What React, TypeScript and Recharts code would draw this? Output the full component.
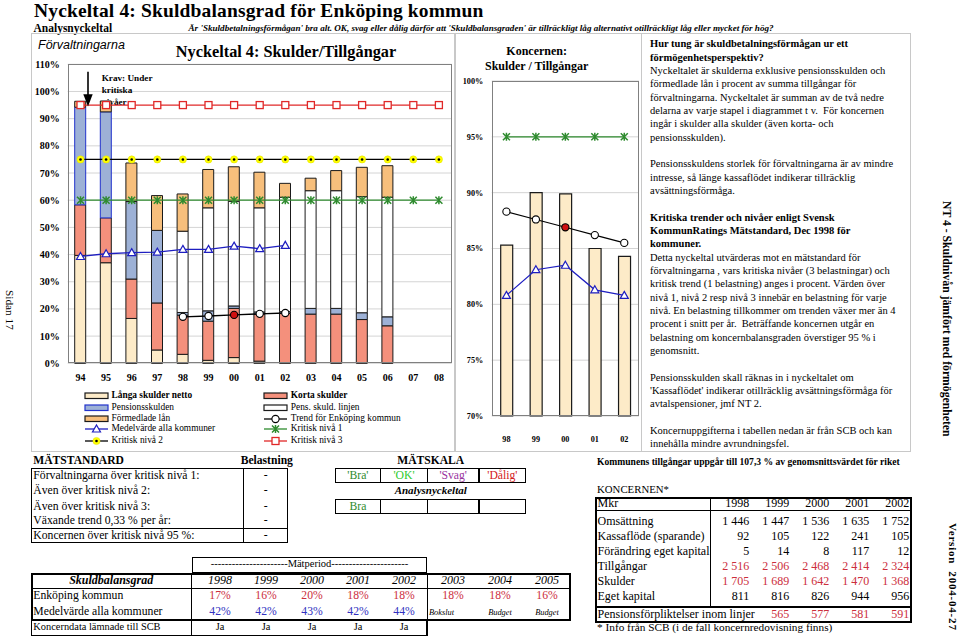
import React from 'react';
import { ComposedChart, Bar, Line, XAxis, YAxis, CartesianGrid, Cell } from 'recharts';

// ---------- DATA ----------
const years = ['94', '95', '96', '97', '98', '99', '00', '01', '02', '03', '04', '05', '06', '07', '08'];
const langaSkulder = [39.7, 37.0, 16.5, 4.9, 3.3, 1.1, 2.1, 0.8, 0, 0, 0, 0, 0, null, null];
const kortaSkulder = [18.6, 16.5, 14.5, 17.3, 14.4, 14.4, 18.1, 17.3, 18.3, 18.1, 18.1, 16.1, 13.8, null, null];
const pensionsskulden = [35.9, 39.0, 28.5, 26.7, 1.0, 3.8, 0.9, 0.8, 0.7, 2.1, 2.1, 2.5, 3.3, null, null];
const pensSkuldLinjen = [0, 0, 0, 0, 29.9, 37.9, 38.5, 38.3, 42.1, 43.3, 43.3, 42.7, 44.0, null, null];
const formedladeLan = [2.2, 4.0, 14.2, 12.8, 13.7, 14.1, 12.7, 13.1, 5.1, 4.6, 7.4, 10.8, 11.6, null, null];
const medelvardeAlla = [39.3, 40.3, 40.7, 40.9, 41.9, 41.9, 43.1, 42.2, 43.4, null, null, null, null, null, null];
const trendEnkoping = [null, null, null, null, 17.1, 17.4, 17.8, 18.2, 18.5, null, null, null, null, null, null];
const kritiskNiva1 = [60, 60, 60, 60, 60, 60, 60, 60, 60, 60, 60, 60, 60, 60, 60];
const kritiskNiva2 = [75, 75, 75, 75, 75, 75, 75, 75, 75, 75, 75, 75, 75, 75, 75];
const kritiskNiva3 = [95, 95, 95, 95, 95, 95, 95, 95, 95, 95, 95, 95, 95, 95, 95];
const leftTicks = [0, 10, 20, 30, 40, 50, 60, 70, 80, 90, 100, 110];

const konYears = ['98', '99', '00', '01', '02'];
const konSkulder = [85.3, 90.0, 89.9, 85.0, 84.3];
const konTrend = [88.3, 87.6, 86.9, 86.2, 85.5];
const konMedel = [80.8, 83.1, 83.5, 81.3, 80.8];
const konKritisk = [95, 95, 95, 95, 95];
const konTicks = [70, 75, 80, 85, 90, 95, 100];
const highlightYear = '00';

const matRows = [
  'Förvaltningarna över kritisk nivå 1:',
  'Även över kritisk nivå 2:',
  'Även över kritisk nivå 3:',
  'Växande trend 0,33 % per år:',
  'Koncernen över kritisk nivå 95 %:',
];
const matBelastning = ['-', '-', '-', '-', '-'];
const skalaLabels = ["'Bra'", "'OK'", "'Svag'", "'Dålig'"];
const skalaResult = ['Bra', '', '', ''];

const periodYears = ['1998', '1999', '2000', '2001', '2002'];
const futureYears = ['2003', '2004', '2005'];
const enkopingPct = ['17%', '16%', '20%', '18%', '18%'];
const enkopingFuture = ['18%', '18%', '16%'];
const medelPct = ['42%', '42%', '43%', '42%', '44%'];
const futureNotes = ['Bokslut', 'Budget', 'Budget'];
const koncernData = ['Ja', 'Ja', 'Ja', 'Ja', 'Ja'];

const konTableYears = ['1998', '1999', '2000', '2001', '2002'];
const konTableRows: { label: string; values: string[]; red: boolean }[] = [
  { label: 'Omsättning', values: ['1 446', '1 447', '1 536', '1 635', '1 752'], red: false },
  { label: 'Kassaflöde (sparande)', values: ['92', '105', '122', '241', '105'], red: false },
  { label: 'Förändring eget kapital', values: ['5', '14', '8', '117', '12'], red: false },
  { label: 'Tillgångar', values: ['2 516', '2 506', '2 468', '2 414', '2 324'], red: true },
  { label: 'Skulder', values: ['1 705', '1 689', '1 642', '1 470', '1 368'], red: true },
  { label: 'Eget kapital', values: ['811', '816', '826', '944', '956'], red: false },
];
const pensionRow = ['', '565', '577', '581', '591'];

const headerQuestion =
  "Är 'Skuldbetalningsförmågan' bra alt. OK, svag eller dålig därför att 'Skuldbalansgraden' är tillräckligt låg alternativt otillräckligt låg eller mycket för hög?";

const textLines: { t: string; b?: boolean }[] = [
  { t: 'Hur tung är skuldbetalningsförmågan ur ett', b: true },
  { t: 'förmögenhetsperspektiv?', b: true },
  { t: 'Nyckeltalet är skulderna exklusive pensionsskulden och' },
  { t: 'förmedlade lån i procent av summa tillgångar för' },
  { t: 'förvaltningarna. Nyckeltalet är summan av de två nedre' },
  { t: 'delarna av varje stapel i diagrammet t v.  För koncernen' },
  { t: 'ingår i skulder alla skulder (även korta- och' },
  { t: 'pensionsskulden).' },
  { t: '' },
  { t: 'Pensionsskuldens storlek för förvaltningarna är av mindre' },
  { t: 'intresse, så länge kassaflödet indikerar tillräcklig' },
  { t: 'avsättningsförmåga.' },
  { t: '' },
  { t: 'Kritiska trender och nivåer enligt Svensk', b: true },
  { t: 'KommunRatings Mätstandard, Dec 1998 för', b: true },
  { t: 'kommuner.', b: true },
  { t: 'Detta nyckeltal utvärderas mot en mätstandard för' },
  { t: 'förvaltningarna , vars kritiska nivåer (3 belastningar) och' },
  { t: 'kritisk trend (1 belastning) anges i procent. Värden över' },
  { t: 'nivå 1, nivå 2 resp nivå 3 innebär en belastning för varje' },
  { t: 'nivå. En belastning tillkommer om trenden växer mer än 4' },
  { t: 'procent i snitt per år.  Beträffande koncernen utgår en' },
  { t: 'belastning om koncernbalansgraden överstiger 95 % i' },
  { t: 'genomsnitt.' },
  { t: '' },
  { t: 'Pensionsskulden skall räknas in i nyckeltalet om' },
  { t: "'Kassaflödet' indikerar otillräcklig avsättningsförmåga för" },
  { t: 'avtalspensioner, jmf NT 2.' },
  { t: '' },
  { t: 'Koncernuppgifterna i tabellen nedan är från SCB och kan' },
  { t: 'innehålla mindre avrundningsfel.' },
];

// ---------- STYLE ----------
const SERIF = '"Liberation Serif", "Times New Roman", serif';
const SANS = '"Liberation Sans", Arial, sans-serif';
const C = {
  langa: '#FDEBC8',
  korta: '#F4907C',
  pension: '#9DB1D6',
  linjen: '#FFFFFF',
  formedlade: '#F7BF7C',
  green: '#2E8B2E',
  red: '#E02828',
  blue: '#1E1EC0',
  yellow: '#FFFF00',
  border: '#1a1a1a',
};

const leftData = years.map((y, i) => ({
  year: y,
  langa: langaSkulder[i],
  korta: kortaSkulder[i],
  pension: pensionsskulden[i],
  linjen: pensSkuldLinjen[i],
  formedlade: formedladeLan[i],
  medel: medelvardeAlla[i],
  trend: trendEnkoping[i],
  k1: kritiskNiva1[i],
  k2: kritiskNiva2[i],
  k3: kritiskNiva3[i],
}));

const konData = konYears.map((y, i) => ({
  year: y,
  skulder: konSkulder[i],
  trend: konTrend[i],
  medel: konMedel[i],
  krit: konKritisk[i],
}));

function marker(kind: string, cx: number, cy: number, key: string, hi = false) {
  switch (kind) {
    case 'star':
      return (
        <g key={key}>
          <path
            d={`M${cx - 3.5},${cy - 3.5}L${cx + 3.5},${cy + 3.5}M${cx - 3.5},${cy + 3.5}L${cx + 3.5},${cy - 3.5}M${cx},${cy - 4}L${cx},${cy + 4}`}
            stroke={C.green}
            strokeWidth={1.5}
          />
        </g>
      );
    case 'yellow':
      return (
        <g key={key}>
          <circle cx={cx} cy={cy} r={3.6} fill={C.yellow} stroke="#e0e000" strokeWidth={0.5} />
          <circle cx={cx} cy={cy} r={1.3} fill="#000" />
        </g>
      );
    case 'square':
      return <rect key={key} x={cx - 3.5} y={cy - 3.5} width={7} height={7} fill="#fff" stroke={C.red} strokeWidth={1.3} />;
    case 'triangle':
      return (
        <path key={key} d={`M${cx},${cy - 4}L${cx + 4},${cy + 3}L${cx - 4},${cy + 3}Z`} fill="#fff" stroke={C.blue} strokeWidth={1.2} />
      );
    case 'circle':
      return <circle key={key} cx={cx} cy={cy} r={3.6} fill={hi ? '#D01010' : '#fff'} stroke="#000" strokeWidth={1.1} />;
    default:
      return <g key={key} />;
  }
}

const dotFn = (kind: string) => (props: any) => {
  const { cx, cy, index, payload, value } = props;
  const key = `${kind}-${index}`;
  if (cx == null || cy == null || value == null || Number.isNaN(cy)) return <g key={key} />;
  return marker(kind, cx, cy, key, payload && payload.year === highlightYear);
};

const Txt = ({ x, y, size, children, bold, italic, color, anchor = 'start', family = SERIF, spacing, lh = 1.2 }: any) => {
  let transform = undefined as string | undefined;
  if (anchor === 'middle') transform = 'translateX(-50%)';
  if (anchor === 'end') transform = 'translateX(-100%)';
  const top = y - size * 0.64 + ((1.2 - lh) / 2) * size;
  return (
    <div
      style={{
        position: 'absolute',
        left: x,
        top,
        fontSize: size,
        lineHeight: `${size * lh}px`,
        whiteSpace: 'pre',
        fontWeight: bold ? 'bold' : 'normal',
        fontStyle: italic ? 'italic' : 'normal',
        color: color || '#000',
        fontFamily: family,
        transform,
        letterSpacing: spacing,
      }}
    >
      {children}
    </div>
  );
};

const Box = ({ x1, y1, x2, y2, w = 1, color = '#000', sides }: any) => (
  <div
    style={{
      position: 'absolute',
      left: x1,
      top: y1,
      width: x2 - x1,
      height: y2 - y1,
      boxSizing: 'border-box',
      borderStyle: 'solid',
      borderColor: color,
      borderWidth: sides || w,
    }}
  />
);
const VLine = ({ x, y1, y2, w = 1, color = '#000' }: any) => (
  <div style={{ position: 'absolute', left: x - w / 2, top: y1, width: w, height: y2 - y1, background: color }} />
);
const HLine = ({ y, x1, x2, w = 1, color = '#000' }: any) => (
  <div style={{ position: 'absolute', left: x1, top: y - w / 2, width: x2 - x1, height: w, background: color }} />
);

// x = left edge of the rotated text's box
const Rotated = ({ x, y, size, children, bold, spacing }: any) => (
  <div
    style={{
      position: 'absolute',
      left: x + size * 1.2,
      top: y,
      fontSize: size,
      lineHeight: `${size * 1.2}px`,
      whiteSpace: 'pre',
      fontWeight: bold ? 'bold' : 'normal',
      fontFamily: SERIF,
      transform: 'rotate(90deg)',
      transformOrigin: 'left top',
      letterSpacing: spacing,
    }}
  >
    {children}
  </div>
);

const legendItems = [
  { label: 'Långa skulder netto', type: 'rect', fill: C.langa, stroke: C.border, bold: true, col: 0, row: 0 },
  { label: 'Pensionsskulden', type: 'rect', fill: C.pension, stroke: '#2233CC', col: 0, row: 1 },
  { label: 'Förmedlade lån', type: 'rect', fill: C.formedlade, stroke: C.border, col: 0, row: 2 },
  { label: 'Medelvärde alla kommuner', type: 'line', stroke: C.blue, mk: 'triangle', col: 0, row: 3 },
  { label: 'Kritisk nivå 2', type: 'line', stroke: '#000', mk: 'yellow', col: 0, row: 4 },
  { label: 'Korta skulder', type: 'rect', fill: C.korta, stroke: C.border, bold: true, col: 1, row: 0 },
  { label: 'Pens. skuld. linjen', type: 'rect', fill: C.linjen, stroke: C.border, col: 1, row: 1 },
  { label: 'Trend för Enköping kommun', type: 'line', stroke: '#000', mk: 'circle', col: 1, row: 2 },
  { label: 'Kritisk nivå 1', type: 'line', stroke: C.green, mk: 'star', col: 1, row: 3 },
  { label: 'Kritisk nivå 3', type: 'line', stroke: C.red, mk: 'square', col: 1, row: 4 },
];
const legendRowY = [396, 407.7, 418.7, 429.3, 440.7];
const legendColX = [85, 264.3];

export default function App() {
  const tickStyle = { fontSize: 10, fontWeight: 'bold', fill: '#000', fontFamily: SERIF };
  const konTick = { fontSize: 8.2, fontWeight: 'bold', fill: '#000', fontFamily: SERIF };
  return (
    <div style={{ position: 'absolute', left: 0, top: 0, width: 960, height: 637, background: '#fff', fontFamily: SERIF, overflow: 'hidden' }}>
      {/* Header */}
      <Txt x={34} y={11.7} size={19.5} bold lh={0.9} spacing={0.15}>Nyckeltal 4: Skuldbalansgrad för Enköping kommun</Txt>
      <Txt x={33.5} y={28.6} size={11.5} bold lh={0.9}>Analysnyckeltal</Txt>
      <Txt x={188.5} y={28.4} size={9.1} bold italic lh={0.9}>{headerQuestion}</Txt>

      {/* Panel frame */}
      <Box x1={31} y1={33} x2={911} y2={452} w={1.5} color="#C8C8C8" />
      <VLine x={455} y1={33} y2={452} w={1.5} color="#C8C8C8" />
      <VLine x={641.5} y1={33} y2={452} w={1.5} color="#C8C8C8" />

      <Txt x={38} y={46} size={12.5} italic family={SANS}>Förvaltningarna</Txt>
      <Txt x={286} y={52.5} size={16.3} bold anchor="middle">Nyckeltal 4: Skulder/Tillgångar</Txt>

      {/* Annotation text partly hidden by the critical-level line */}
      <Txt x={101.7} y={102.5} size={9.2} bold>nivåer</Txt>

      {/* Left chart */}
      <div style={{ position: 'absolute', left: 0, top: 0 }}>
        <ComposedChart width={455} height={395} data={leftData} margin={{ top: 64.3, right: 3.3, left: 0, bottom: 0 }} barSize={11}>
          <CartesianGrid vertical={false} stroke="#D4D4D4" />
          <XAxis dataKey="year" interval={0} tick={tickStyle} tickLine={false} axisLine={false} height={31.7} tickMargin={5} />
          <YAxis domain={[0, 110]} ticks={leftTicks} interval={0} tickFormatter={(v: number) => `${v}%`} tick={tickStyle} tickLine={false} axisLine={false} width={67.7} tickSize={6} tickMargin={2} />
          <Bar dataKey="langa" stackId="a" fill={C.langa} stroke={C.border} strokeWidth={1} isAnimationActive={false} />
          <Bar dataKey="korta" stackId="a" fill={C.korta} stroke={C.border} strokeWidth={1} isAnimationActive={false} />
          <Bar dataKey="pension" stackId="a" fill={C.pension} stroke={C.border} strokeWidth={1} isAnimationActive={false}>
            {leftData.map((d, i) => (
              <Cell key={i} stroke={i < 2 ? '#2233CC' : C.border} />
            ))}
          </Bar>
          <Bar dataKey="linjen" stackId="a" fill={C.linjen} stroke={C.border} strokeWidth={1} isAnimationActive={false} />
          <Bar dataKey="formedlade" stackId="a" fill={C.formedlade} stroke={C.border} strokeWidth={1} isAnimationActive={false} />
          <Line dataKey="k2" stroke="#000" strokeWidth={1.3} dot={dotFn('yellow')} activeDot={false} isAnimationActive={false} />
          <Line dataKey="k1" stroke={C.green} strokeWidth={1.3} dot={dotFn('star')} activeDot={false} isAnimationActive={false} />
          <Line dataKey="k3" stroke={C.red} strokeWidth={1.3} dot={dotFn('square')} activeDot={false} isAnimationActive={false} />
          <Line dataKey="medel" stroke={C.blue} strokeWidth={1.3} dot={dotFn('triangle')} activeDot={false} isAnimationActive={false} />
          <Line dataKey="trend" stroke="#000" strokeWidth={1.3} dot={dotFn('circle')} activeDot={false} isAnimationActive={false} />
        </ComposedChart>
      </div>
      <Box x1={67.7} y1={64.3} x2={451.7} y2={363.3} w={1} color="#808080" />
      <Txt x={101.7} y={78.5} size={9.2} bold>Krav: Under</Txt>
      <Txt x={101.7} y={90.5} size={9.2} bold>kritiska</Txt>

      {/* Arrow */}
      <svg style={{ position: 'absolute', left: 0, top: 0 }} width={200} height={120}>
        <line x1={88} y1={71.7} x2={88} y2={96} stroke="#000" strokeWidth={1.6} />
        <path d="M83.3,94.3L92.7,94.3L88,106.5Z" fill="#000" />
      </svg>

      {/* Legend */}
      {legendItems.map((it, i) => {
        const x = legendColX[it.col];
        const y = legendRowY[it.row];
        return (
          <React.Fragment key={i}>
            <svg style={{ position: 'absolute', left: x - 2, top: y - 6 }} width={28} height={12}>
              {it.type === 'rect' ? (
                <rect x={2} y={3} width={23} height={5.5} fill={it.fill} stroke={it.stroke} strokeWidth={1.2} />
              ) : (
                <>
                  <line x1={2} y1={6} x2={25} y2={6} stroke={it.stroke} strokeWidth={1.3} />
                  {marker(it.mk as string, 13.5, 6, 'm')}
                </>
              )}
            </svg>
            <Txt x={x + 26.5} y={y} size={9.4} bold={it.bold}>{it.label}</Txt>
          </React.Fragment>
        );
      })}

      {/* Koncernen chart */}
      <Txt x={536.7} y={52} size={12} bold anchor="middle">Koncernen:</Txt>
      <Txt x={536.7} y={67} size={12} bold anchor="middle">Skulder / Tillgångar</Txt>
      <div style={{ position: 'absolute', left: 440, top: 0 }}>
        <ComposedChart width={205} height={450} data={konData} margin={{ top: 81, right: 6, left: 0, bottom: 0 }} barSize={12}>
          <CartesianGrid vertical={false} stroke="#D4D4D4" />
          <XAxis dataKey="year" interval={0} tick={konTick} tickLine={false} axisLine={false} height={34} tickMargin={14} />
          <YAxis domain={[70, 100]} ticks={konTicks} interval={0} tickFormatter={(v: number) => `${v}%`} tick={konTick} tickLine={false} axisLine={false} width={51.7} tickSize={5} tickMargin={3.5} />
          <Bar dataKey="skulder" fill={C.langa} stroke={C.border} strokeWidth={1.2} isAnimationActive={false} />
          <Line dataKey="krit" stroke={C.green} strokeWidth={1.3} dot={dotFn('star')} activeDot={false} isAnimationActive={false} />
          <Line dataKey="trend" stroke="#000" strokeWidth={1.2} dot={dotFn('circle')} activeDot={false} isAnimationActive={false} />
          <Line dataKey="medel" stroke={C.blue} strokeWidth={1.2} dot={dotFn('triangle')} activeDot={false} isAnimationActive={false} />
        </ComposedChart>
      </div>
      <Box x1={491.7} y1={81} x2={639} y2={416} w={1} color="#808080" />

      {/* Right text */}
      {textLines.map((l, i) => (
        <Txt key={i} x={650} y={45 + i * 13.33} size={10.5} bold={l.b}>{l.t}</Txt>
      ))}

      {/* Rotated side texts */}
      <Rotated x={2} y={290} size={11.3}>Sidan 17</Rotated>
      <Rotated x={938.5} y={201} size={11.7} bold>NT 4 - Skuldnivån jämfört med förmögenheten</Rotated>
      <Rotated x={945.5} y={523} size={11} bold spacing={0.8}>Version  2004-04-27</Rotated>

      {/* MÄTSTANDARD table */}
      <Txt x={33.3} y={461} size={11.6} bold>MÄTSTANDARD</Txt>
      <Txt x={240.7} y={461} size={11.6} bold>Belastning</Txt>
      <Box x1={30.7} y1={468.3} x2={288.3} y2={543.3} w={1.5} />
      <VLine x={243.3} y1={468.3} y2={543.3} w={1.5} />
      <HLine y={528.3} x1={30.7} x2={288.3} w={1.5} />
      {matRows.map((r, i) => {
        const yc = [476, 491.7, 507.3, 521.7, 536][i];
        return (
          <React.Fragment key={i}>
            <Txt x={33.3} y={yc} size={11.7}>{r}</Txt>
            <Txt x={265.8} y={yc} size={11.7} anchor="middle">{matBelastning[i]}</Txt>
          </React.Fragment>
        );
      })}

      {/* MÄTSKALA */}
      <Txt x={430.7} y={461} size={11.6} bold anchor="middle">MÄTSKALA</Txt>
      <Box x1={335} y1={468.3} x2={525.7} y2={483.3} w={1.5} />
      <Box x1={335} y1={499.3} x2={525.7} y2={514.3} w={1.5} />
      {[380.7, 427.3, 479].map((x, i) => (
        <React.Fragment key={i}>
          <VLine x={x} y1={468.3} y2={483.3} w={1.5} />
          <VLine x={x} y1={499.3} y2={514.3} w={1.5} />
        </React.Fragment>
      ))}
      {skalaLabels.map((s, i) => {
        const centers = [357.9, 404, 453.2, 502.4];
        const colors = ['#2E8B2E', '#2ECC2E', '#9933A0', '#D42020'];
        return (
          <React.Fragment key={i}>
            <Txt x={centers[i]} y={476} size={11.7} anchor="middle" color={colors[i]}>{s}</Txt>
            <Txt x={centers[i]} y={507} size={11.7} anchor="middle" color={colors[i]}>{skalaResult[i]}</Txt>
          </React.Fragment>
        );
      })}
      <Txt x={430.7} y={491} size={11} bold italic anchor="middle">Analysnyckeltal</Txt>

      {/* Skuldbalansgrad table */}
      <Box x1={191.7} y1={557.3} x2={427.3} y2={573} w={1.5} />
      <Txt x={309.5} y={565} size={10.5} anchor="middle">----------------------Mätperiod----------------------</Txt>
      <Box x1={30.7} y1={572.7} x2={571} y2={620.7} w={2} />
      <HLine y={588.3} x1={30.7} x2={571} w={1.5} />
      <VLine x={191.7} y1={572.7} y2={635.7} w={1.5} />
      <VLine x={427.3} y1={572.7} y2={635.7} w={1.5} />
      <Box x1={30.7} y1={620} x2={427.3} y2={636} sides="0 1.5px 1.5px 1.5px" />
      <Txt x={111.2} y={580.5} size={12} bold italic anchor="middle">Skuldbalansgrad</Txt>
      <Txt x={33.3} y={596} size={11.7}>Enköping kommun</Txt>
      <Txt x={33.3} y={612.3} size={11.7}>Medelvärde alla kommuner</Txt>
      <Txt x={33.3} y={628} size={10.4}>Koncerndata lämnade till SCB</Txt>
      {periodYears.map((yr, i) => {
        const xc = 220 + i * 46;
        return (
          <React.Fragment key={yr}>
            <Txt x={xc} y={580.5} size={12} italic anchor="middle">{yr}</Txt>
            <Txt x={xc} y={596} size={11.7} anchor="middle" color="#CC2E3C">{enkopingPct[i]}</Txt>
            <Txt x={xc} y={612.3} size={11.7} anchor="middle" color="#3030C0">{medelPct[i]}</Txt>
            <Txt x={xc} y={628} size={10.4} anchor="middle">{koncernData[i]}</Txt>
          </React.Fragment>
        );
      })}
      {futureYears.map((yr, i) => {
        const xc = 453 + i * 47;
        return (
          <React.Fragment key={yr}>
            <Txt x={xc} y={580.5} size={12} italic anchor="middle">{yr}</Txt>
            <Txt x={xc} y={596} size={11.7} anchor="middle" color="#CC2E3C">{enkopingFuture[i]}</Txt>
            {i === 0 ? (
              <Txt x={429} y={613} size={8.4} italic>{futureNotes[i]}</Txt>
            ) : (
              <Txt x={xc} y={613} size={8.4} italic anchor="middle">{futureNotes[i]}</Txt>
            )}
          </React.Fragment>
        );
      })}

      {/* KONCERNEN table */}
      <Txt x={597} y={462.3} size={9.6} bold>Kommunens tillgångar uppgår till 107,3 % av genomsnittsvärdet för riket</Txt>
      <Txt x={597} y={490} size={10.8}>KONCERNEN*</Txt>
      <Box x1={595} y1={496.7} x2={911.7} y2={607.7} w={2} />
      <Box x1={595} y1={607} x2={911.7} y2={623} sides="0 2px 2px 2px" />
      <VLine x={710.7} y1={496.7} y2={607.7} w={1.5} />
      <HLine y={510} x1={595} x2={911.7} w={1} />
      <Txt x={597.5} y={503.3} size={12}>Mkr</Txt>
      {konTableYears.map((yr, i) => (
        <Txt key={yr} x={749.3 + i * 40} y={503.3} size={12} anchor="end">{yr}</Txt>
      ))}
      {konTableRows.map((row, r) => {
        const yc = 521.7 + r * 15;
        return (
          <React.Fragment key={row.label}>
            <Txt x={597.5} y={yc} size={12}>{row.label}</Txt>
            {row.values.map((v, i) => (
              <Txt key={i} x={749.3 + i * 40} y={yc} size={12} anchor="end" color={row.red ? '#CC2E3C' : '#000'}>{v}</Txt>
            ))}
          </React.Fragment>
        );
      })}
      <Txt x={597.5} y={615} size={12}>Pensionsförpliktelser inom linjer</Txt>
      {pensionRow.map((v, i) => (
        <Txt key={i} x={749.3 + i * 40} y={615} size={12} anchor="end" color="#CC2E3C">{v}</Txt>
      ))}
      <Txt x={597} y={628} size={11.3}>* Info från SCB (i de fall koncernredovisning finns)</Txt>
    </div>
  );
}
